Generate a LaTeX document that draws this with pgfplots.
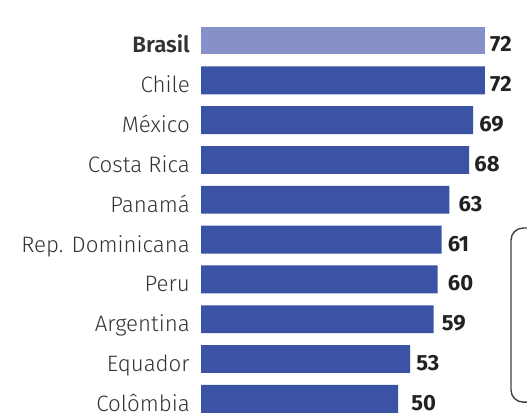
\documentclass[border=0pt]{standalone}
\usepackage{fontspec}
\setmainfont{Fira Sans Light}[BoldFont={Fira Sans SemiBold}]
\newfontfamily\numfont{Fira Sans Bold}
\usepackage{pgfplots}
\usepackage{pgfplotstable}
\pgfplotsset{compat=1.18}

\definecolor{barblue}{HTML}{3A53A4}
\definecolor{barlight}{HTML}{8591C8}
\definecolor{labelgray}{HTML}{333333}
\definecolor{numblack}{HTML}{222222}

% idx = row from the top, gap = space between bar end and its number (bp)
\pgfplotstableread{
idx val gap
0   72  5
}\brasil
\pgfplotstableread{
idx val gap
1   72  5
2   69  6
3   68  5
4   63  9
5   61  6
6   60  10
7   59  8
8   53  6
9   50  13
}\outros

\begin{document}
\begin{tikzpicture}
\begin{axis}[
    xbar,
    scale only axis,
    width=326bp, height=414bp,
    xmin=0, xmax=82.65,
    ymin=-1.017, ymax=9.38,
    y dir=reverse,
    bar width=0.7, bar shift=0pt,
    axis line style={draw=none},
    major tick length=0pt,
    xtick=\empty,
    ytick={0,...,9},
    yticklabels={\textbf{Brasil}, Chile, México, Costa Rica, Panamá,
        Rep. Dominicana, Peru, Argentina, Equador, Colômbia},
    yticklabel style={font=\fontsize{22.3bp}{24bp}\selectfont, text=labelgray,
        anchor=base east, inner sep=0pt, xshift=-11bp, yshift=-12.5bp},
    /pgf/number format/assume math mode=true,
    point meta=x,
    nodes near coords,
    visualization depends on={\thisrow{gap} \as \gap},
    nodes near coords style={font=\numfont\fontsize{22bp}{24bp}\selectfont,
        text=numblack, anchor=base west, inner sep=0pt,
        xshift=\gap bp, yshift=-11.5bp},
]
\addplot[fill=barlight, draw=none] table[x=val, y=idx] {\brasil};
\addplot[fill=barblue, draw=none] table[x=val, y=idx] {\outros};
\draw[color=black!75, line width=1.4bp, rounded corners=12bp]
    (axis cs:78.6,4.71) rectangle (axis cs:95,9.08);
\end{axis}
\pgfresetboundingbox
\useasboundingbox ([xshift=-201bp]current axis.south west) rectangle (current axis.north east);
\end{tikzpicture}
\end{document}
